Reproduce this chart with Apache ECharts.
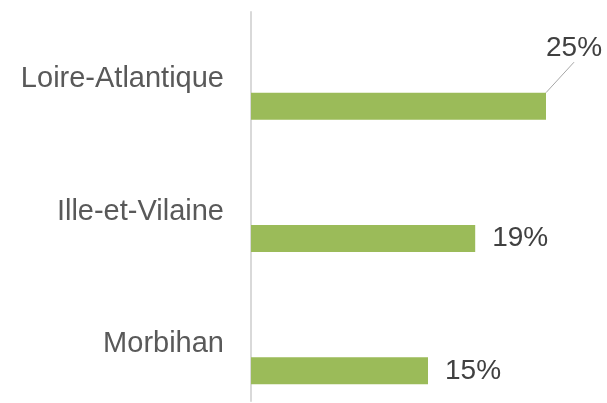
<!DOCTYPE html>
<html>
<head>
<meta charset="utf-8">
<script src="https://cdn.jsdelivr.net/npm/echarts@6/dist/echarts.min.js"></script>
<style>
    html, body { margin: 0; padding: 0; background: #ffffff; }
    #chart { width: 607px; height: 403px; }
</style>
</head>
<body>
<div id="chart"></div>
<script>
let chartDom = document.getElementById('chart');
let myChart = echarts.init(chartDom);

const departements = ['Loire-Atlantique', 'Ille-et-Vilaine', 'Morbihan'];
const parts = [25, 19, 15];

const fontFamily = 'Liberation Sans, Arial, sans-serif';

let barData = parts.map((v, i) => {
    let item = { value: v };
    if (i === 0) {
        item.labelLine = { show: true };
    }
    return item;
});

let option = {
    animation: false,
    textStyle: { fontFamily: fontFamily },
    grid: [
        // grid only used for the vertical axis line
        { left: 251, right: 61, top: 12, bottom: 2, outerBoundsMode: 'none' },
        // grid for the bars and category labels (runs past the bottom edge)
        { left: 251, right: 61, top: 40, height: 397, outerBoundsMode: 'none' }
    ],
    xAxis: [
        { gridIndex: 0, type: 'value', min: 0, max: 25, show: false },
        { gridIndex: 1, type: 'value', min: 0, max: 25, show: false }
    ],
    yAxis: [
        {
            gridIndex: 0,
            type: 'category',
            data: departements,
            inverse: true,
            axisLine: { show: true, lineStyle: { color: '#d9d9d9', width: 2 } },
            axisTick: { show: false },
            axisLabel: { show: false },
            splitLine: { show: false }
        },
        {
            gridIndex: 1,
            type: 'category',
            data: departements,
            inverse: true,
            axisLine: { show: false },
            axisTick: { show: false },
            splitLine: { show: false },
            axisLabel: {
                color: '#595959',
                fontSize: 29,
                fontFamily: fontFamily,
                margin: 27,
                verticalAlign: 'bottom',
                lineHeight: 54
            }
        }
    ],
    series: [{
        type: 'bar',
        xAxisIndex: 1,
        yAxisIndex: 1,
        data: barData,
        barWidth: 27,
        itemStyle: { color: '#9bbb59' },
        label: {
            show: true,
            position: 'right',
            distance: 17,
            color: '#404040',
            fontSize: 28,
            fontFamily: fontFamily,
            formatter: (p) => p.value + '%'
        },
        labelLine: {
            show: false,
            lineStyle: { color: '#a6a6a6', width: 1 }
        },
        labelLayout: function (params) {
            if (params.dataIndex === 0) {
                return { dx: -17, dy: -58 };
            }
            return {};
        }
    }]
};
option && myChart.setOption(option);
</script>
</body>
</html>
